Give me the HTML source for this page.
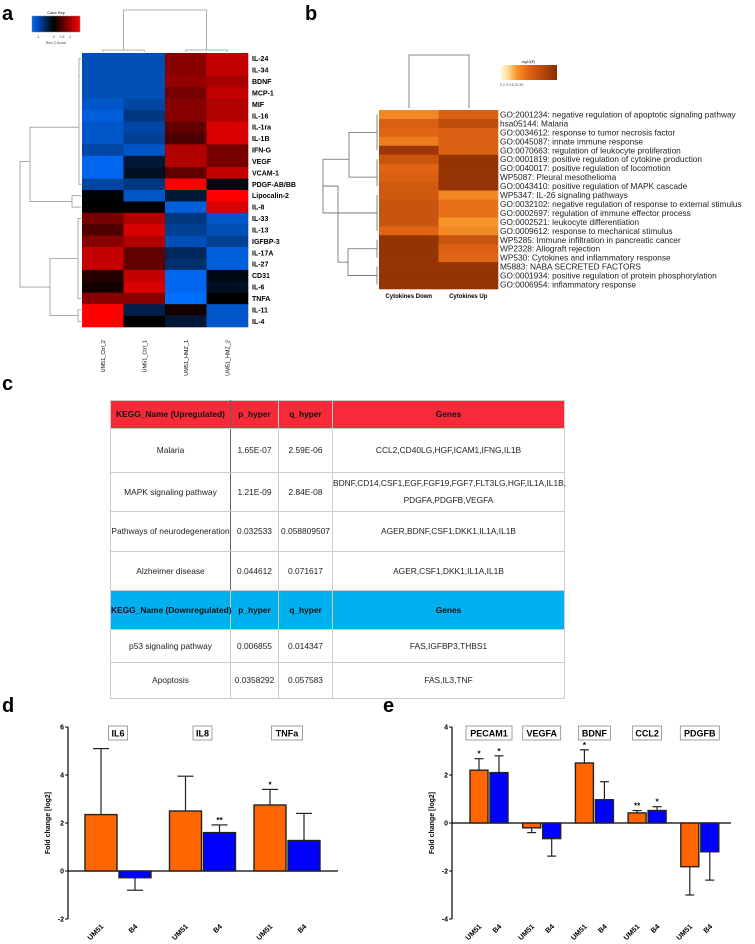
<!DOCTYPE html>
<html><head><meta charset="utf-8">
<style>
body{margin:0;background:#fff;width:755px;height:944px;overflow:hidden;position:relative;font-family:"Liberation Sans",Arial,sans-serif}
svg{position:absolute;left:0;top:0}
table{position:absolute;left:110px;top:400px;width:454px;border-collapse:collapse;font-size:8.4px;color:#222;table-layout:fixed}
td{border:1px solid #ccc;text-align:center;padding:0;line-height:13px;white-space:nowrap}
td.v{border-right:1px solid #666}
tr.hu td{background:#f72a3a;font-weight:bold;color:#111;height:27px}
tr.hd td{background:#00b0ef;font-weight:bold;color:#111;height:38px}
</style></head><body>
<svg id="fig" width="755" height="944"></svg>
<table>
<colgroup><col style="width:120px"><col style="width:48px"><col style="width:54px"><col style="width:232px"></colgroup>
<tr class="hu"><td class="v">KEGG_Name (Upregulated)</td><td>p_hyper</td><td>q_hyper</td><td>Genes</td></tr>
<tr style="height:44px"><td class="v">Malaria</td><td>1.65E-07</td><td>2.59E-06</td><td>CCL2,CD40LG,HGF,ICAM1,IFNG,IL1B</td></tr>
<tr style="height:39px"><td class="v">MAPK signaling pathway</td><td>1.21E-09</td><td>2.84E-08</td><td style="line-height:17px">BDNF,CD14,CSF1,EGF,FGF19,FGF7,FLT3LG,HGF,IL1A,IL1B,<br>PDGFA,PDGFB,VEGFA</td></tr>
<tr style="height:40px"><td class="v">Pathways of neurodegeneration</td><td>0.032533</td><td>0.058809507</td><td>AGER,BDNF,CSF1,DKK1,IL1A,IL1B</td></tr>
<tr style="height:39px"><td class="v">Alzheimer disease</td><td>0.044612</td><td>0.071617</td><td>AGER,CSF1,DKK1,IL1A,IL1B</td></tr>
<tr class="hd"><td>KEGG_Name (Downregulated)</td><td>p_hyper</td><td>q_hyper</td><td>Genes</td></tr>
<tr style="height:33px"><td>p53 signaling pathway</td><td>0.006855</td><td>0.014347</td><td>FAS,IGFBP3,THBS1</td></tr>
<tr style="height:36px"><td>Apoptosis</td><td>0.0358292</td><td>0.057583</td><td>FAS,IL3,TNF</td></tr>
</table>
<script>
// ---------- data ----------
const aRows=["IL-24","IL-34","BDNF","MCP-1","MIF","IL-16","IL-1ra","IL-1B","IFN-G","VEGF","VCAM-1","PDGF-AB/BB","Lipocalin-2","IL-8","IL-33","IL-13","IGFBP-3","IL-17A","IL-27","CD31","IL-6","TNFA","IL-11","IL-4"];
const aCols=["UM51_Ctrl_2","UM51_Ctrl_1","UM51_HMZ_1","UM51_HMZ_2"];
const aZ=[[-1,-1,0.7,1],[-1,-1,0.7,1],[-1,-1,0.75,0.85],[-1,-1,0.6,1],[-1.1,-0.9,0.7,0.9],[-1.2,-0.7,0.7,0.9],[-1.1,-0.9,0.5,1.1],[-1.1,-0.8,0.4,1.1],[-0.9,-1.1,0.9,0.6],[-1.3,-0.3,0.9,0.6],[-1.3,-0.2,0.5,1],[-0.9,-0.7,1.3,-0.1],[-0.05,-1.1,-0.3,1.3],[0,0,-1.2,1.1],[0.6,0.9,-0.7,-1.1],[0.4,1.1,-0.8,-1.0],[0.7,0.9,-1.0,-0.8],[1,0.5,-0.5,-1.2],[1,0.5,-0.6,-1.2],[0.2,1,-1.3,-0.1],[0.1,1.1,-1.3,-0.2],[0.7,0.7,-1.5,0],[1.3,-0.4,0.1,-1.1],[1.3,0,-0.3,-1.1]];
const bRows=["GO:2001234: negative regulation of apoptotic signaling pathway","hsa05144: Malaria","GO:0034612: response to tumor necrosis factor","GO:0045087: innate immune response","GO:0070663: regulation of leukocyte proliferation","GO:0001819: positive regulation of cytokine production","GO:0040017: positive regulation of locomotion","WP5087: Pleural mesothelioma","GO:0043410: positive regulation of MAPK cascade","WP5347: IL-26 signaling pathways","GO:0032102: negative regulation of response to external stimulus","GO:0002697: regulation of immune effector process","GO:0002521: leukocyte differentiation","GO:0009612: response to mechanical stimulus","WP5285: Immune infiltration in pancreatic cancer","WP2328: Allograft rejection","WP530: Cytokines and inflammatory response","M5883: NABA SECRETED FACTORS","GO:0001934: positive regulation of protein phosphorylation","GO:0006954: inflammatory response"];
const bCols=["Cytokines Down","Cytokines Up"];
const bDown=[7,11,10,8,18,13,10,11,12,12,13,13,13,10,19,19,19,19,19,19];
const bUp=[11,14,11,11,11,19,19,19,19,7,9,9,6,7,13,11,10,19,19,19];
const dGenes=["IL6","IL8","TNFa"];
const dUM51=[2.35,2.5,2.75], dUM51Err=[2.75,1.45,0.65], dUM51Sig=["","","*"];
const dB4=[-0.28,1.6,1.27], dB4Err=[0.52,0.32,1.13], dB4Sig=["","**",""];
const dTicks=[6,4,2,0,-2];
const eGenes=["PECAM1","VEGFA","BDNF","CCL2","PDGFB"];
const eUM51=[2.2,-0.2,2.5,0.42,-1.82], eUM51Err=[0.48,0.2,0.55,0.1,1.18], eUM51Sig=["*","","*","**",""];
const eB4=[2.1,-0.65,0.97,0.52,-1.2], eB4Err=[0.7,0.73,0.75,0.16,1.18], eB4Sig=["*","","","*",""];
const eTicks=[4,2,0,-2,-4];

// ---------- helpers ----------
const S=document.getElementById('fig'),NS="http://www.w3.org/2000/svg";
function mk(tag,at,parent){const e=document.createElementNS(NS,tag);for(const k in at)e.setAttribute(k,at[k]);(parent||S).appendChild(e);return e;}
function txt(x,y,s,at,parent){const e=mk('text',Object.assign({x:x,y:y,'font-family':'Liberation Sans, Arial, sans-serif'},at||{}),parent);e.textContent=s;return e;}
function rwb(z){z=Math.max(-1.5,Math.min(1.5,z));if(z>=0){const t=Math.min(1,z/1.3);return `rgb(${Math.round(255*t)},0,0)`;}const t=Math.min(1,-z/1.4);return `rgb(0,${Math.round(110*t)},${Math.round(255*t)})`;}
function org(v){const stops=[[0,[255,255,240]],[3,[253,220,150]],[6,[247,148,40]],[10,[225,100,20]],[20,[140,45,0]]];for(let i=1;i<stops.length;i++){if(v<=stops[i][0]){const a=stops[i-1],b=stops[i],t=(v-a[0])/(b[0]-a[0]);return `rgb(${a[1].map((c,j)=>Math.round(c+(b[1][j]-c)*t)).join(',')})`;}}return 'rgb(140,45,0)';}

// panel letters
[["a",2,20],["b",305,20],["c",2,390],["d",2,712],["e",383,712]].forEach(p=>{const t=txt(p[1],p[2],p[0],{'font-size':20,'font-weight':'bold'});});

// ---------- panel a ----------
const ga=mk('g',{});
const ax0=82,ax1=248,ay0=53,ay1=327,cw=(ax1-ax0)/aCols.length,rh=(ay1-ay0)/aRows.length;
aZ.forEach((row,i)=>row.forEach((z,j)=>{const c=mk('rect',{x:ax0+j*cw,y:ay0+i*rh,width:cw+0.3,height:rh+0.3,fill:rwb(z)},ga);}));
aRows.forEach((r,i)=>{const t=txt(252,ay0+i*rh+rh/2+2.5,r,{'font-size':7,'font-weight':'bold'});});
aCols.forEach((c,j)=>{const x=ax0+j*cw+cw/2+2;const t=txt(x,340,c,{'font-size':5.5,'text-anchor':'end',transform:`rotate(-90 ${x} 340)`});});
// color key
const gk=mk('g',{});
const dfa=mk('defs',{});const lg=mk('linearGradient',{id:'rb'},dfa);[[0,'#0066ff'],[0.45,'#000'],[1,'#ff0000']].forEach(s=>mk('stop',{offset:s[0],'stop-color':s[1]},lg));
mk('rect',{x:32,y:16,width:48,height:16,fill:'url(#rb)',stroke:'#888','stroke-width':0.5},gk);
txt(56,14,'Color Key',{'font-size':4,'text-anchor':'middle'},gk);
txt(56,44,'Row Z-Score',{'font-size':3.5,'text-anchor':'middle',fill:'#444'},gk);
[["-1",38],["0",54],["0.5",62],["1",70]].forEach(k=>txt(k[1],38,k[0],{'font-size':3.5,'text-anchor':'middle',fill:'#444'},gk));
// dendrograms a
const da=mk('g',{stroke:'#999','stroke-width':0.8,fill:'none'});
const cc=j=>ax0+j*cw+cw/2;
mk('path',{d:`M${cc(0)} 52V50H${cc(1)}V52M${cc(2)} 52V50H${cc(3)}V52M${(cc(0)+cc(1))/2} 50V10H${(cc(2)+cc(3))/2}V50`},da);
const ry=i=>ay0+i*rh+rh/2;
mk('path',{d:`M81 ${ry(0)}H79V${ry(11)}H81 M79 ${(ry(0)+ry(3))/2}H78 M81 ${ry(12)}H72V${ry(13)}H81 M79 ${ry(6)}H30V${ry(12.5)}H72 M81 ${ry(14)}H78V${ry(21)}H81 M78 ${ry(17.5)}H50V${ry(22.5)}H78 M81 ${ry(22)}H78V${ry(23)}H81 M50 ${ry(20)}H20V${ry(9)}H30`},da);

// ---------- panel b ----------
const gb=mk('g',{});
const bx0=379,bx1=498,by0=110,by1=289,bcw=(bx1-bx0)/2,brh=(by1-by0)/bRows.length;
[bDown,bUp].forEach((arr,j)=>arr.forEach((v,i)=>{const c=mk('rect',{x:bx0+j*bcw,y:by0+i*brh,width:bcw+0.3,height:brh+0.3,fill:org(v)},gb);}));
bRows.forEach((r,i)=>{const t=txt(500,by0+i*brh+brh/2+3,r,{'font-size':8.3,fill:'#222'});});
bCols.forEach((c,j)=>{const t=txt(bx0+j*bcw+bcw/2,298,c,{'font-size':6,'font-weight':'bold','text-anchor':'middle'});});
const lg2=mk('linearGradient',{id:'og'},dfa);[[0,'#fffdf0'],[0.15,'#fdd890'],[0.3,'#f79428'],[0.5,'#e06414'],[1,'#8c2d00']].forEach(s=>mk('stop',{offset:s[0],'stop-color':s[1]},lg2));
const gl=mk('g',{});
mk('rect',{x:500,y:65,width:57,height:15,fill:'url(#og)'},gl);
txt(528,63,'-log10(P)',{'font-size':3.5,'text-anchor':'middle'},gl);
txt(500,86,'0  2 3 4   6     10                     20',{'font-size':3.5,fill:'#444'},gl);
const db=mk('g',{stroke:'#666','stroke-width':0.8,fill:'none'});
mk('path',{d:`M409 108V55H469V108`},db);
const by=i=>by0+i*brh+brh/2;
mk('path',{d:`M377 ${by(0)}V${by(4)} M377 ${by(2)}H349V${by(7)}H377 M377 ${by(5)}V${by(8)} M377 ${by(9)}V${by(13)} M377 ${by(11)}H349 M349 ${by(5)}H323V${by(11)}H349 M377 ${by(14)}V${by(16)} M377 ${by(15)}H348V${by(18)}H377 M377 ${by(17)}V${by(19)} M348 ${by(16.5)}H338V${by(8)}H323`},db);

// ---------- bar charts ----------
function bars(name,gs,um,umE,umS,b4,b4E,b4S,ticks,X0,Xend,Y0,unit,ymax,ymin,ux,bw,grp,boxes){
 const g=mk('g',{});
 const y=v=>Y0-(v)*unit;
 mk('line',{x1:X0,y1:y(ymax),x2:X0,y2:y(ymin),stroke:'#000','stroke-width':1.2},g);
 const xa=mk('line',{x1:X0,y1:y(0),x2:Xend,y2:y(0),stroke:'#000','stroke-width':1.2},g);
 ticks.forEach(t=>{mk('line',{x1:X0-3,y1:y(t),x2:X0,y2:y(t),stroke:'#000','stroke-width':1},g);const l=txt(X0-4,y(t)+2.5,t,{'font-size':7,'font-weight':'bold','text-anchor':'end'},g);});
 const at=txt(X0-18,(y(ymax)+y(ymin))/2,'Fold change [log2]',{'font-size':7,'font-weight':'bold','text-anchor':'middle',transform:`rotate(-90 ${X0-18} ${(y(ymax)+y(ymin))/2})`},g);
 gs.forEach((gn,i)=>{
  [[um,umE,umS,'#ff6600','UM51',0],[b4,b4E,b4S,'#0000ff','B4',1]].forEach(s=>{
   const v=s[0][i],e=s[1][i],x=ux+i*grp+s[5]*(bw+2),cx=x+bw/2;
   const top=Math.min(y(v),y(0)),h=Math.abs(y(v)-y(0));
   const end=v>=0?v+e:v-e;
   mk('line',{x1:cx,y1:y(v),x2:cx,y2:y(end),stroke:'#222','stroke-width':1.2},g);
   mk('line',{x1:cx-bw*0.25,y1:y(end),x2:cx+bw*0.25,y2:y(end),stroke:'#222','stroke-width':1.2},g);
   const r=mk('rect',{x:x,y:top,width:bw,height:h,fill:s[3],stroke:'#222','stroke-width':1.4},g);
   
   if(s[2][i]){const st=txt(cx,y(end)-2,s[2][i],{'font-size':8,'font-weight':'bold','text-anchor':'middle'},g);}
   const xl=txt(cx+3,y(ymin)+8,s[4],{'font-size':7.2,'font-weight':'bold','text-anchor':'end',transform:`rotate(-45 ${cx+3} ${y(ymin)+8})`},g);
  });
  const bc=ux+i*grp+bw+1,bwid=boxes[i];
  const bx=mk('rect',{x:bc-bwid/2,y:y(ymax)-1,width:bwid,height:14,fill:'#fff',stroke:'#888','stroke-width':0.8},g);
  const gt=txt(bc,y(ymax)+9.5,gn,{'font-size':9,'font-weight':'bold','text-anchor':'middle'},g);
 });
}
bars('bar-chart-d',dGenes,dUM51,dUM51Err,dUM51Sig,dB4,dB4Err,dB4Sig,dTicks,68,338,871,24,6,-2,85,32,84.5,[19,19,31]);
bars('bar-chart-e',eGenes,eUM51,eUM51Err,eUM51Sig,eB4,eB4Err,eB4Sig,eTicks,452,731,823,24,4,-4,470,18,52.7,[46,38,32,29,39]);
</script>
</body></html>
